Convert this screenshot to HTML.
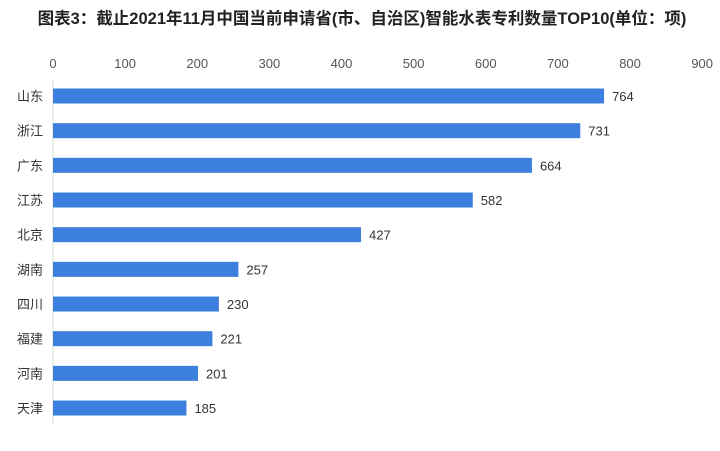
<!DOCTYPE html>
<html><head><meta charset="utf-8"><style>
body{margin:0;background:#fff;width:720px;height:446px;overflow:hidden;font-family:"Liberation Sans","Noto Sans CJK SC",sans-serif;}
</style></head><body>
<svg width="720" height="446">
<text x="362" y="24" text-anchor="middle" font-size="16.5" font-weight="bold" fill="#222" font-family="Liberation Sans, Noto Sans CJK SC, sans-serif">图表3：截止2021年11月中国当前申请省(市、自治区)智能水表专利数量TOP10(单位：项)</text>
<line x1="53" y1="80" x2="53" y2="425" stroke="#d9d9d9"/>
<g id="ticks"></g><g id="bars"></g>
</svg>
<script>
const categories=["山东","浙江","广东","江苏","北京","湖南","四川","福建","河南","天津"];
const values=[764,731,664,582,427,257,230,221,201,185];
const tickValues=[0,100,200,300,400,500,600,700,800,900];
const ns="http://www.w3.org/2000/svg";
const x=v=>53+v*0.7213;
const y=i=>96+i*34.67;
const tg=document.getElementById("ticks"),bg=document.getElementById("bars");
function mk(t,a,p){const e=document.createElementNS(ns,t);for(const k in a)e.setAttribute(k,a[k]);p.appendChild(e);return e;}
tickValues.forEach(v=>{const t=mk("text",{x:x(v),y:68,"text-anchor":"middle","font-size":"13",fill:"#555"},tg);t.textContent=v;

});
categories.forEach((c,i)=>{
const r=mk("rect",{x:53,y:y(i)-7.5,width:x(values[i])-53,height:15,fill:"#3d7fdc"},bg);


const l=mk("text",{x:43,y:y(i)+5,"text-anchor":"end","font-size":"13",fill:"#333"},bg);l.textContent=c;


const vl=mk("text",{x:x(values[i])+8,y:y(i)+5,"font-size":"13",fill:"#333"},bg);vl.textContent=values[i];


});
</script>
</body></html>
